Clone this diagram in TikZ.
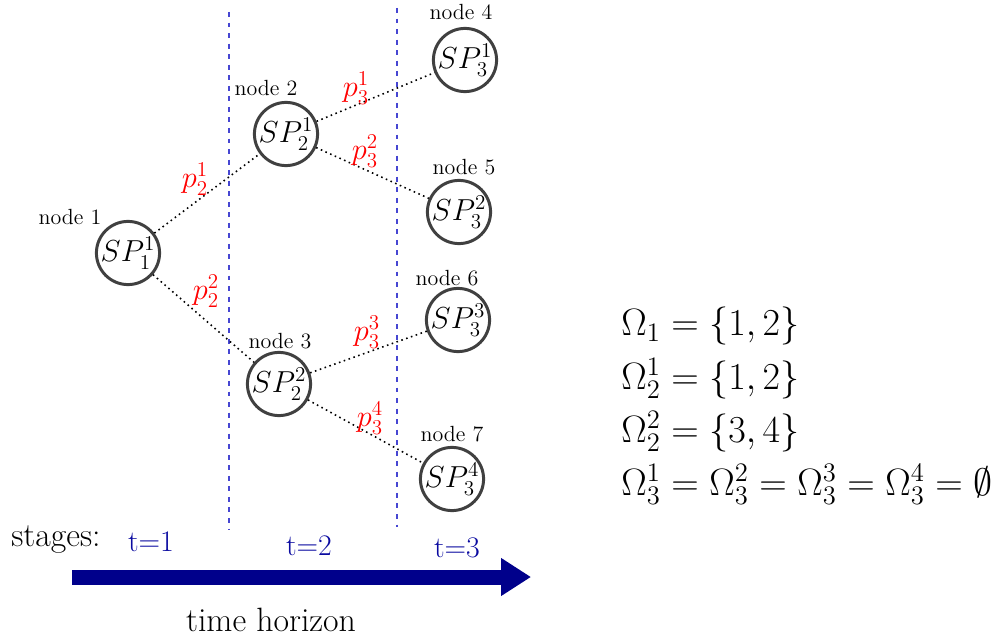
\RequirePackage{fix-cm}
\documentclass[tikz,border=0pt]{standalone}
\usetikzlibrary{positioning,arrows.meta}
\usepackage{xcolor}
\usepackage{amsmath}
\usepackage{amssymb}
\definecolor{stageblue}{RGB}{10,10,160}
\definecolor{arrownavy}{RGB}{0,0,139}
\definecolor{sepblue}{RGB}{70,70,210}
\definecolor{ringgray}{RGB}{64,64,64}

\begin{document}
\begin{tikzpicture}[x=0.02cm, y=-0.02cm,
  spnode/.style={circle, draw=ringgray, line width=1.7pt, minimum size=1.14cm,
                 inner sep=0pt, font=\LARGE},
  nodelbl/.style={font=\fontsize{12.5}{14}\selectfont, inner sep=0pt},
  prob/.style={text=red, font=\LARGE, inner sep=0pt},
  link/.style={dotted, line width=0.9pt},
  stagesep/.style={draw=sepblue, line width=0.75pt, dash pattern=on 2.8pt off 3.2pt},
  tlbl/.style={text=stageblue, font=\fontsize{17}{19}\selectfont, inner sep=0pt},
  axlbl/.style={font=\fontsize{19.2}{22}\selectfont, inner sep=0pt},
  horizon/.style={-{Triangle[length=0.6cm, width=0.72cm]}, draw=arrownavy,
                  fill=arrownavy, line width=0.3cm}
]
\useasboundingbox (0,0) rectangle (1004,642);

% stage separators
\coordinate (sepAtop) at (229,12);
\coordinate (sepAbot) at (229,530);
\coordinate (sepBtop) at (397,8);
\coordinate (sepBbot) at (397,527);
\draw[stagesep] (sepAtop) -- (sepAbot);
\draw[stagesep] (sepBtop) -- (sepBbot);

% scenario tree
\node[spnode] (n1) at (128,253) {$SP_1^1$};
\node[spnode] (n2) at (286,134) {$SP_2^1$};
\node[spnode] (n3) at (279,384) {$SP_2^2$};
\node[spnode] (n4) at (465,60) {$SP_3^1$};
\node[spnode] (n5) at (459,212) {$SP_3^2$};
\node[spnode] (n6) at (458,320) {$SP_3^3$};
\node[spnode] (n7) at (452,479) {$SP_3^4$};

\node[nodelbl] (l1) at (70,217) {node 1};
\node[nodelbl] (l2) at (266,88) {node 2};
\node[nodelbl] (l3) at (280,341) {node 3};
\node[nodelbl] (l4) at (461,12) {node 4};
\node[nodelbl] (l5) at (464,167) {node 5};
\node[nodelbl] (l6) at (447,278) {node 6};
\node[nodelbl] (l7) at (452,434) {node 7};

\draw[link] (n1) -- (n2);
\draw[link] (n1) -- (n3);
\draw[link] (n2) -- (n4);
\draw[link] (n2) -- (n5);
\draw[link] (n3) -- (n6);
\draw[link] (n3) -- (n7);

\node[prob] (p21) at (195,179) {$p_2^1$};
\node[prob] (p22) at (206,291) {$p_2^2$};
\node[prob] (p31) at (356,88) {$p_3^1$};
\node[prob] (p32) at (365,151) {$p_3^2$};
\node[prob] (p33) at (367,332) {$p_3^3$};
\node[prob] (p34) at (370,418) {$p_3^4$};

% time axis
\node[axlbl] (stages) at (56,540) {stages:};
\node[tlbl] (t1) at (151,542) {t=1};
\node[tlbl] (t2) at (309,546) {t=2};
\node[tlbl] (t3) at (457,548) {t=3};
\coordinate (axstart) at (72,577);
\coordinate (axend) at (531,577);
\draw[horizon] (axstart) -- (axend);
\node[axlbl] (horizonlbl) at (271,620) {time horizon};

% children sets
\node[anchor=west, align=left, inner sep=0pt,
      font=\fontsize{21.7}{30.2}\selectfont] (omega) at (621,406)
  {$\Omega_1 = \{1,2\}$\\
   $\Omega_2^1 = \{1,2\}$\\
   $\Omega_2^2 = \{3,4\}$\\
   $\Omega_3^1 = \Omega_3^2 = \Omega_3^3 = \Omega_3^4 = \emptyset$};
\end{tikzpicture}
\end{document}
